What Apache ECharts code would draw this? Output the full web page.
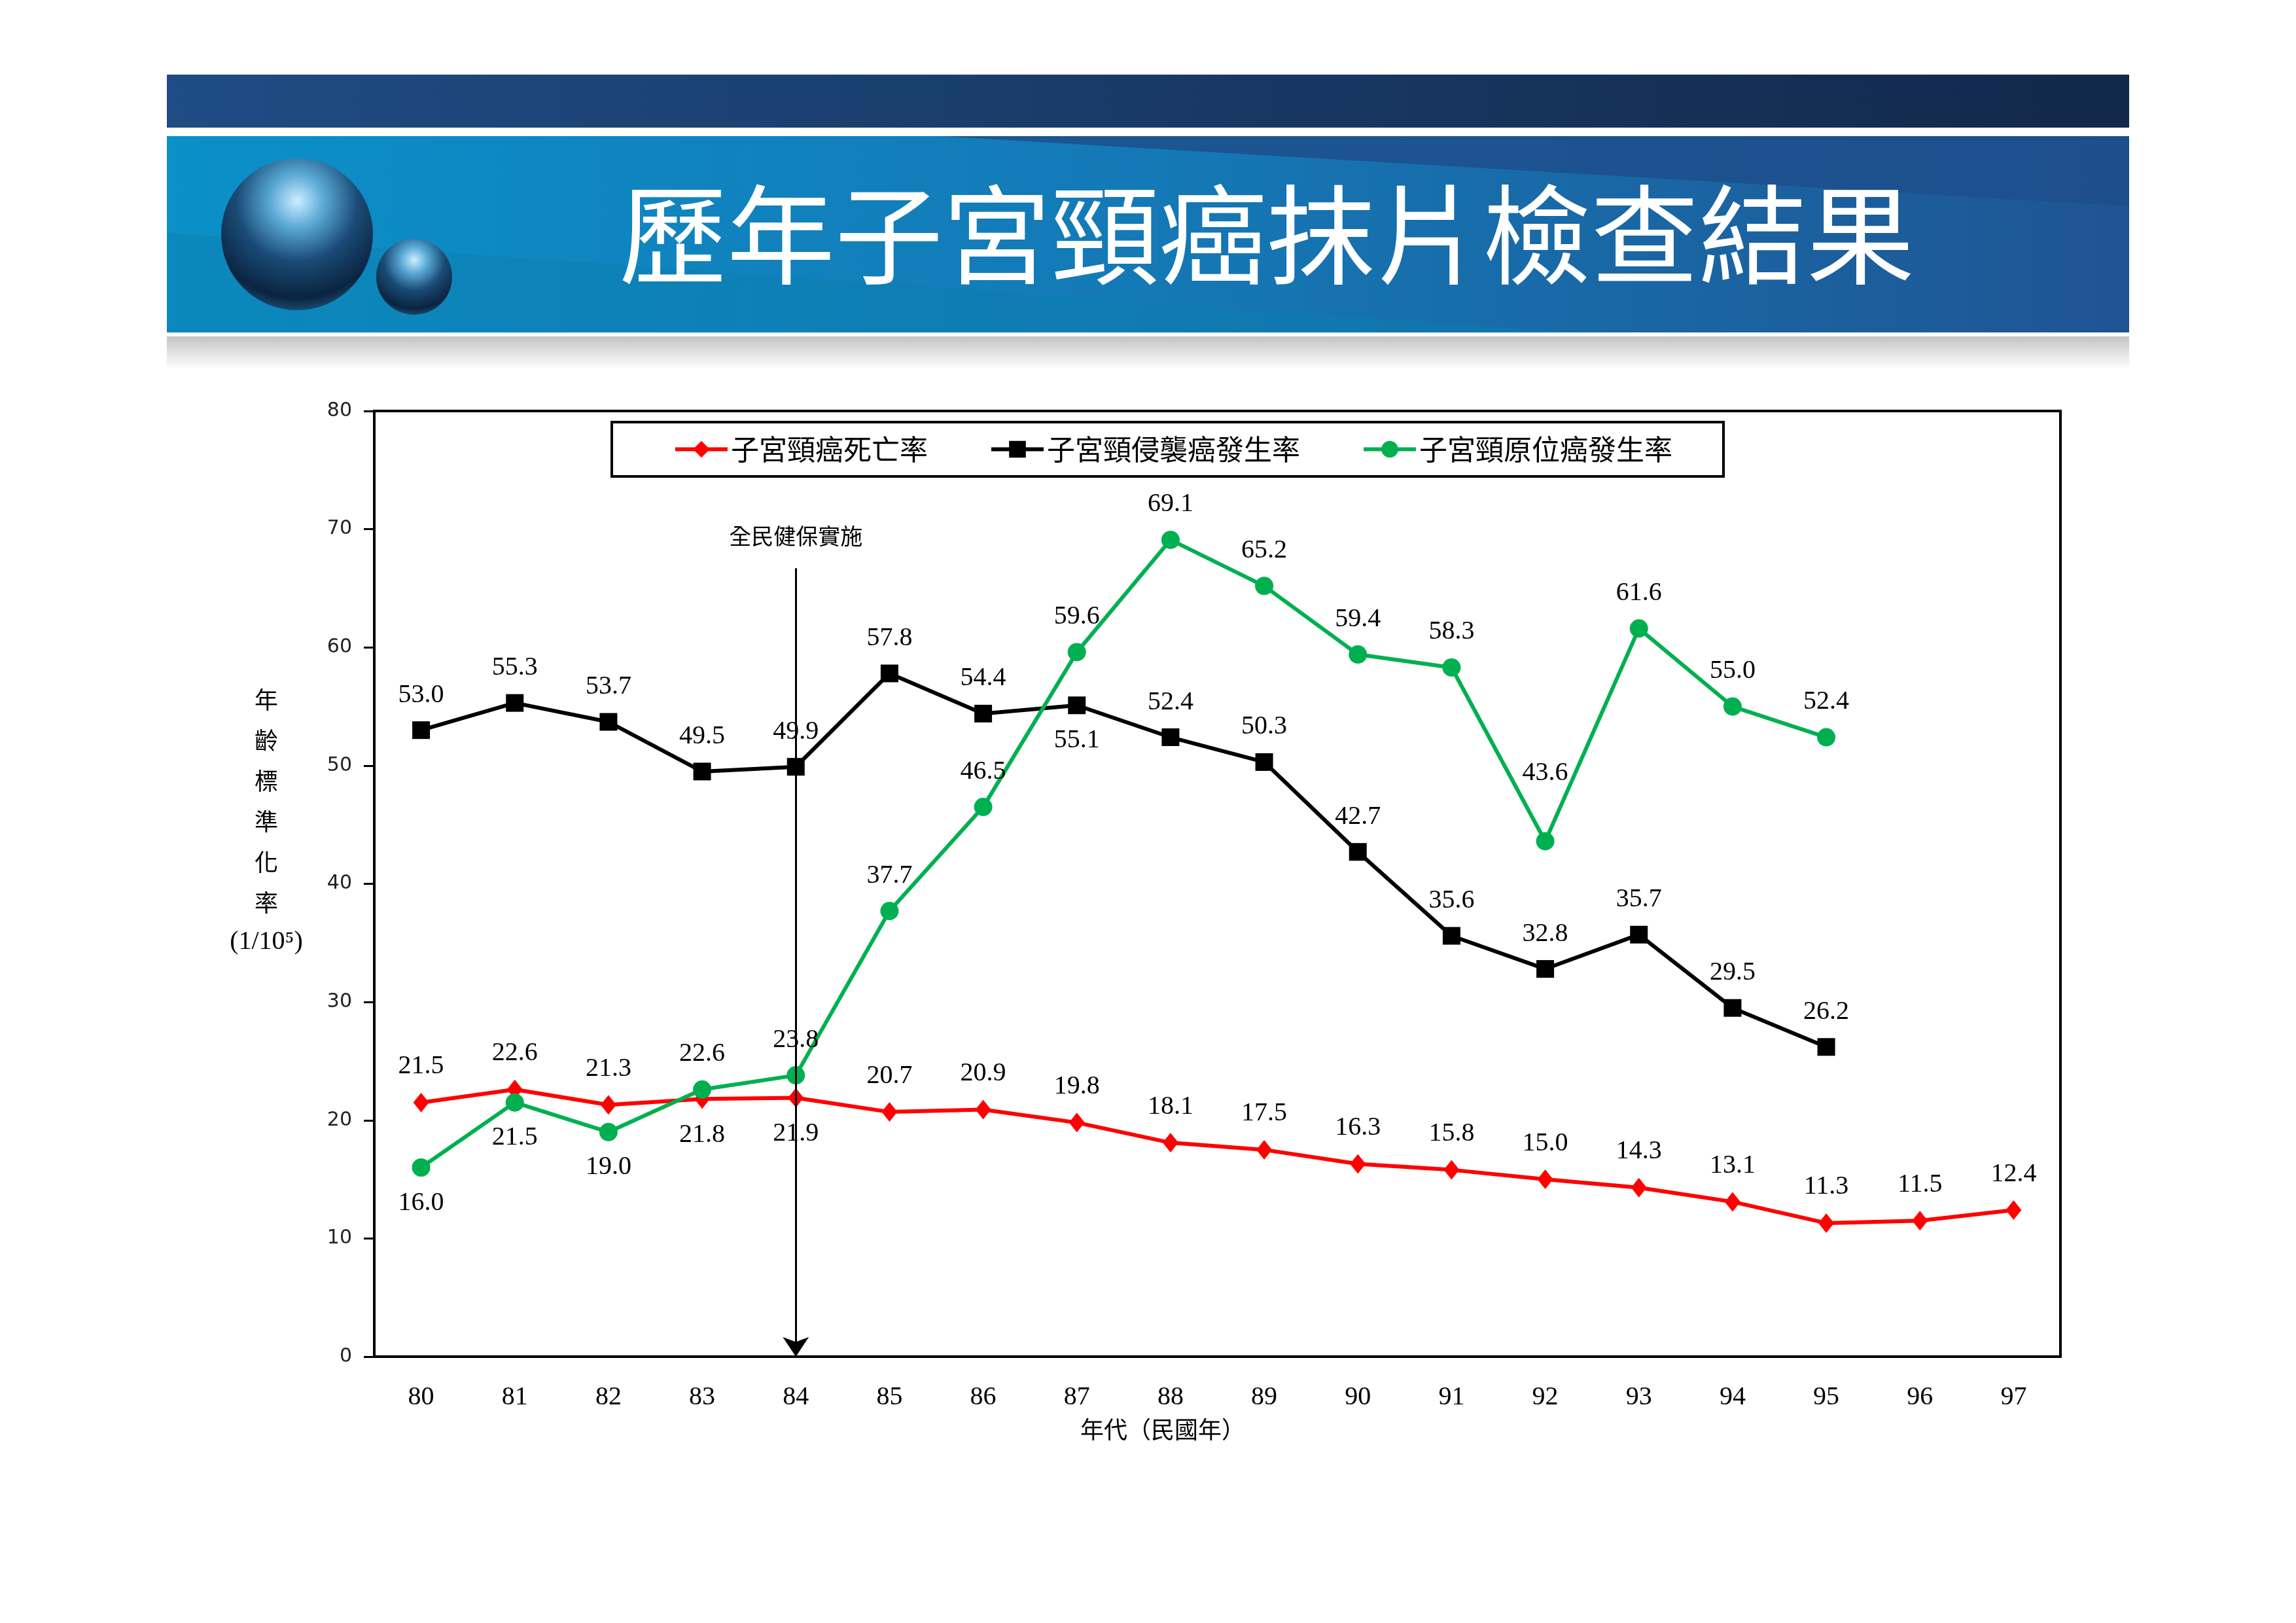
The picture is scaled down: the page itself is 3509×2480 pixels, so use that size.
<!DOCTYPE html>
<html>
<head>
<meta charset="utf-8">
<title>歷年子宮頸癌抹片檢查結果</title>
<script src="https://cdn.jsdelivr.net/npm/echarts@6/dist/echarts.min.js"></script>
<style>
html, body { margin: 0; padding: 0; background: #fff; }
#chart-container { width: 3509px; height: 2480px; }
</style>
</head>
<body>
<div id="chart-container"></div>
<script>
'use strict';

// 民國年
const years = ['80', '81', '82', '83', '84', '85', '86', '87', '88',
    '89', '90', '91', '92', '93', '94', '95', '96', '97'];

const deathRate = [21.5, 22.6, 21.3, 21.8, 21.9, 20.7, 20.9, 19.8, 18.1,
    17.5, 16.3, 15.8, 15.0, 14.3, 13.1, 11.3, 11.5, 12.4];
const invasiveRate = [53.0, 55.3, 53.7, 49.5, 49.9, 57.8, 54.4, 55.1, 52.4,
    50.3, 42.7, 35.6, 32.8, 35.7, 29.5, 26.2, null, null];
const inSituRate = [16.0, 21.5, 19.0, 22.6, 23.8, 37.7, 46.5, 59.6, 69.1,
    65.2, 59.4, 58.3, 43.6, 61.6, 55.0, 52.4, null, null];

const seriesNames = ['子宮頸癌死亡率', '子宮頸侵襲癌發生率', '子宮頸原位癌發生率'];

const titleText = '歷年子宮頸癌抹片檢查結果';
const xAxisTitle = '年代（民國年）';
const yAxisTitle = '年\n齡\n標\n準\n化\n率';
const yAxisUnit = '(1/10⁵)';
const policyYear = '84';
const policyTop = 66.7;
const policyText = '全民健保實施';

const serif = '"Liberation Serif", "Times New Roman", serif';
const cjk = '"Noto Sans CJK TC", sans-serif';

// labels that sit under their point instead of over it
function withLabels(values, below, shift) {
    return values.map((v, i) => {
        if (v === null) {
            return null;
        }
        const item = { value: v };
        if (below.indexOf(i) >= 0) {
            item.label = { position: 'bottom' };
        }
        if (shift && shift[i]) {
            item.label = Object.assign(item.label || {}, { offset: shift[i] });
        }
        return item;
    });
}

const labelStyle = {
    show: true,
    position: 'top',
    distance: 20,
    color: '#000',
    fontSize: 40,
    fontFamily: serif,
    formatter: (p) => p.value.toFixed(1)
};

function sphere(cx, cy, r) {
    return {
        type: 'circle',
        shape: { cx: cx, cy: cy, r: r },
        style: {
            fill: {
                type: 'radial', x: 0.5, y: 0.28, r: 0.8,
                colorStops: [
                    { offset: 0, color: '#cdeeff' },
                    { offset: 0.22, color: '#5aa9d6' },
                    { offset: 0.5, color: '#1a4b76' },
                    { offset: 0.8, color: '#0a2440' },
                    { offset: 1, color: '#2a6a98' }
                ]
            }
        }
    };
}

const myChart = echarts.init(document.getElementById('chart-container'), null, { renderer: 'canvas' });

const option = {
    animation: false,
    backgroundColor: '#fff',
    graphic: [
        {
            type: 'rect',
            shape: { x: 255, y: 114, width: 2999, height: 81 },
            style: {
                fill: {
                    type: 'linear', x: 0, y: 0, x2: 1, y2: 0,
                    colorStops: [{ offset: 0, color: '#1f4c84' }, { offset: 1, color: '#12284a' }]
                }
            }
        },
        {
            type: 'rect',
            shape: { x: 255, y: 208, width: 2999, height: 300 },
            style: {
                fill: {
                    type: 'linear', x: 0, y: 0, x2: 1, y2: 0,
                    colorStops: [{ offset: 0, color: '#0b90c8' }, { offset: 0.5, color: '#1479b6' }, { offset: 1, color: '#1f5493' }]
                }
            }
        },
        {
            type: 'polygon',
            shape: { points: [[1436, 208], [3254, 208], [3254, 315]] },
            style: { fill: '#1d4f8c', opacity: 0.85 }
        },
        {
            type: 'polygon',
            shape: { points: [[255, 356], [2410, 508], [255, 508]] },
            style: { fill: '#0a7fb0', opacity: 0.45 }
        },
        {
            type: 'rect',
            shape: { x: 255, y: 514, width: 2999, height: 50 },
            style: {
                fill: {
                    type: 'linear', x: 0, y: 0, x2: 0, y2: 1,
                    colorStops: [{ offset: 0, color: '#c4c4c4' }, { offset: 1, color: '#ffffff' }]
                }
            }
        },
        sphere(454, 358, 116),
        sphere(633, 423, 58),
        {
            type: 'text',
            x: 1936,
            y: 358,
            style: {
                text: titleText,
                fill: '#fff',
                fontSize: 165,
                fontFamily: cjk,
                align: 'center',
                verticalAlign: 'middle'
            }
        },
        {
            type: 'text',
            x: 407,
            y: 1038,
            style: {
                text: yAxisTitle,
                fill: '#000',
                fontSize: 36,
                lineHeight: 62,
                fontFamily: cjk,
                align: 'center',
                verticalAlign: 'top'
            }
        },
        {
            type: 'text',
            x: 407,
            y: 1439,
            style: {
                text: yAxisUnit,
                fill: '#000',
                fontSize: 40,
                fontFamily: serif,
                align: 'center',
                verticalAlign: 'middle'
            }
        },
        {
            type: 'text',
            x: 1777,
            y: 2184,
            style: {
                text: xAxisTitle,
                fill: '#000',
                fontSize: 36,
                fontFamily: cjk,
                align: 'center',
                verticalAlign: 'middle'
            }
        }
    ],
    legend: {
        left: 935,
        top: 645,
        orient: 'horizontal',
        borderColor: '#000',
        borderWidth: 4,
        padding: [20, 78, 20, 94],
        itemGap: 94,
        itemWidth: 80,
        itemHeight: 32,
        lineStyle: { width: 6 },
        textStyle: {
            color: '#000',
            fontSize: 43,
            fontFamily: cjk
        },
        data: seriesNames
    },
    grid: {
        left: 572,
        top: 628,
        width: 2577,
        height: 1445,
        show: true,
        borderColor: '#000',
        borderWidth: 4,
        containLabel: false
    },
    xAxis: {
        type: 'category',
        data: years,
        boundaryGap: true,
        axisLine: { lineStyle: { color: '#000', width: 4 } },
        axisTick: { show: false },
        axisLabel: { color: '#000', fontSize: 40, fontFamily: serif, margin: 42 },
        splitLine: { show: false }
    },
    yAxis: {
        type: 'value',
        min: 0,
        max: 80,
        interval: 10,
        axisLine: { show: true, lineStyle: { color: '#000', width: 4 } },
        axisTick: { show: true, inside: false, length: 16, lineStyle: { color: '#000', width: 3 } },
        axisLabel: { color: '#222', fontSize: 30, fontFamily: '"DejaVu Sans", sans-serif', margin: 34 },
        splitLine: { show: false }
    },
    series: [
        {
            name: seriesNames[0],
            type: 'line',
            data: withLabels(deathRate, [3, 4]),
            symbol: 'diamond',
            symbolSize: [24, 30],
            itemStyle: { color: '#ff0000' },
            lineStyle: { color: '#ff0000', width: 6 },
            label: labelStyle,
            z: 3
        },
        {
            name: seriesNames[1],
            type: 'line',
            data: withLabels(invasiveRate, [7]),
            symbol: 'rect',
            symbolSize: 27,
            itemStyle: { color: '#000' },
            lineStyle: { color: '#000', width: 6 },
            label: labelStyle,
            z: 2,
            markLine: {
                silent: true,
                symbol: ['none', 'arrow'],
                symbolSize: 30,
                lineStyle: { color: '#000', width: 3, type: 'solid' },
                label: {
                    show: true,
                    position: 'start',
                    distance: 32,
                    formatter: policyText,
                    color: '#000',
                    fontSize: 34,
                    fontFamily: cjk
                },
                data: [[{ coord: [policyYear, policyTop] }, { coord: [policyYear, 0] }]]
            }
        },
        {
            name: seriesNames[2],
            type: 'line',
            data: withLabels(inSituRate, [0, 1, 2], { 12: [0, -50] }),
            symbol: 'circle',
            symbolSize: 28,
            itemStyle: { color: '#00b050' },
            lineStyle: { color: '#00b050', width: 6 },
            label: labelStyle,
            z: 4
        }
    ]
};

myChart.setOption(option);
window.addEventListener('resize', myChart.resize);
</script>
</body>
</html>
